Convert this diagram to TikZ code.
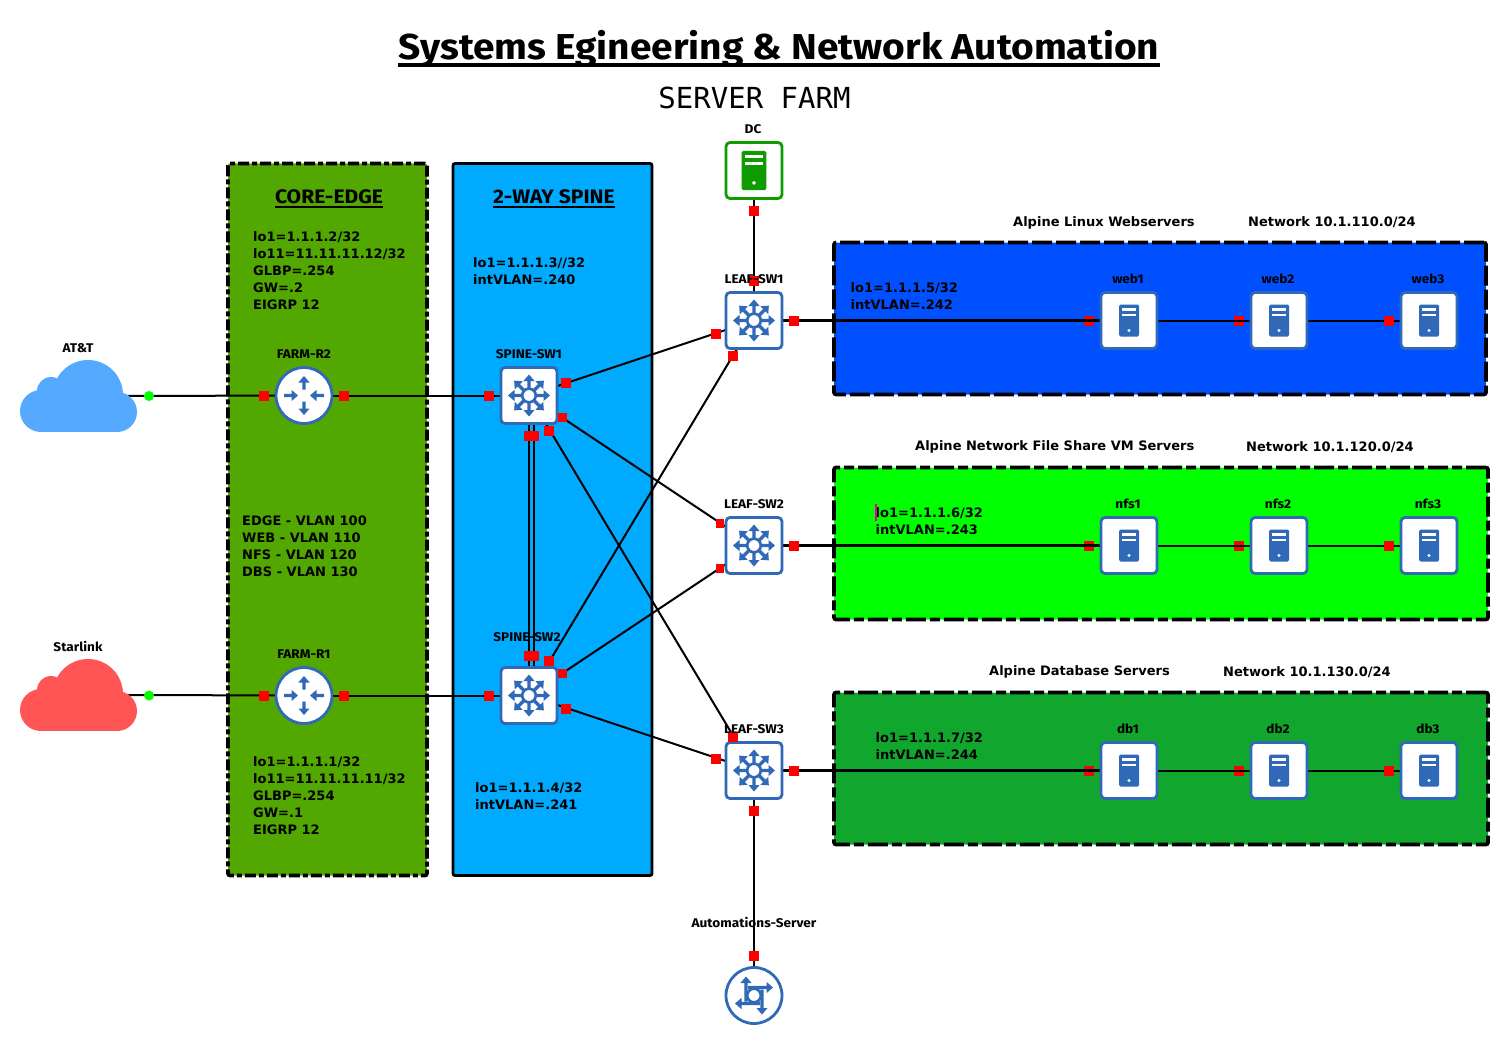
\documentclass[tikz,border=0pt]{standalone}
\usepackage{fontspec}
\setmainfont{DejaVu Sans}
\newfontfamily\ubf[FakeStretch=1.08]{Fira Sans}
\newfontfamily\monof{DejaVu Sans Mono}
\definecolor{iconblue}{HTML}{2F69B8}
\definecolor{dcgreen}{HTML}{109C00}
\definecolor{corefill}{HTML}{52A800}
\definecolor{spinefill}{HTML}{00AAFF}
\definecolor{webfill}{HTML}{0050FF}
\definecolor{nfsfill}{HTML}{00FF00}
\definecolor{dbfill}{HTML}{11A62E}
\definecolor{cloudblue}{HTML}{55AAFF}
\definecolor{cloudred}{HTML}{FF5555}
\pgfdeclarelayer{zonelayer}
\pgfdeclarelayer{linelayer}
\pgfsetlayers{zonelayer,linelayer,main}
\tikzset{
  zonebase/.style={draw=black,rounded corners=2pt,inner sep=0pt,line width=3.6pt},
  port/.style={fill=red,draw=none,minimum size=10pt,inner sep=0pt},
  portsmall/.style={fill=red,draw=none,minimum size=8.5pt,inner sep=0pt},
  swbox/.style={draw=iconblue,fill=white,line width=2.8pt,rounded corners=4pt,minimum size=56pt,inner sep=0pt},
  dcbox/.style={draw=dcgreen,fill=white,line width=2.8pt,rounded corners=4pt,minimum size=56pt,inner sep=0pt},
  circbox/.style={circle,draw=iconblue,fill=white,line width=2.8pt,minimum size=56pt,inner sep=0pt},
  conn/.style={draw=black,line width=2pt},
  connthick/.style={draw=black,line width=3pt},
  info/.style={inner sep=0pt,anchor=west,align=left,yshift=0.8pt,font=\fontsize{13}{17}\selectfont\bfseries},
  devlabel/.style={inner sep=0pt,yshift=0.6pt,font=\ubf\fontsize{12.6}{14}\selectfont\bfseries},
  zonetitle/.style={inner sep=0pt,yshift=0.8pt,font=\ubf\fontsize{19.5}{22}\selectfont\bfseries},
  nethead/.style={inner sep=0pt,anchor=west,yshift=0.8pt,font=\fontsize{13}{16}\selectfont\bfseries},
}
% block arrow from radius #1 to radius #2 at angle #3
\newcommand{\blockarrow}[3]{%
  \begin{scope}[rotate=#3]
    \fill (#1,-1.7) -- (#2-6.5,-1.7) -- (#2-6.5,-5.6) -- (#2,0) -- (#2-6.5,5.6) -- (#2-6.5,1.7) -- (#1,1.7) -- cycle;
  \end{scope}}
\newcommand{\switchicon}[1]{%
  \begin{scope}[shift={(#1)},iconblue]
    \foreach \a in {0,45,...,315}{\blockarrow{5}{21}{\a}}
    \draw[fill=white,draw=iconblue,line width=2.6pt] (0,0) circle (6.8);
  \end{scope}}
\newcommand{\routericon}[1]{%
  \begin{scope}[shift={(#1)},iconblue]
    \blockarrow{6}{19.5}{90}
    \blockarrow{6}{19.5}{270}
    \begin{scope}[shift={(-20,0)}]\blockarrow{0}{14}{0}\end{scope}
    \begin{scope}[shift={(20,0)}]\blockarrow{0}{14}{180}\end{scope}
  \end{scope}}
\newcommand{\autoicon}[1]{%
  \begin{scope}[shift={(#1)},iconblue]
    \foreach \a in {0,90,180,270}{%
      \begin{scope}[rotate=\a]
        \begin{scope}[shift={(-8,6)}]\blockarrow{0}{25}{90}\end{scope}
      \end{scope}}
    \draw[fill=white,draw=iconblue,line width=2.6pt] (0,0) circle (6.8);
  \end{scope}}
% server glyph: centre #1, scale #2, colour #3
\newcommand{\servericon}[3]{%
  \begin{scope}[shift={(#1)},scale=#2]
    \fill[#3,rounded corners=1.5pt] (-10,-16) rectangle (10,16);
    \fill[white] (-7,-13) rectangle (7,-10);
    \fill[white] (-7,-7) rectangle (7,-4.5);
    \fill[white] (0,10) circle (1.6);
  \end{scope}}
\newcommand{\cloudshape}[2]{%
  \begin{scope}[shift={(#1)}]
    \fill[#2] (88,395) circle (35);
    \fill[#2] (41,411) circle (21);
    \fill[#2] (117,412) circle (20);
    \fill[#2] (51,391) circle (14);
    \fill[#2] (41,400) rectangle (117,432);
  \end{scope}}
\begin{document}
\begin{tikzpicture}[x=1pt,y=-1pt]
\useasboundingbox (0,-0.5) rectangle (1510,1045.5);

% ---- zones
\begin{pgfonlayer}{zonelayer}
\fill[white] (0,-0.5) rectangle (1510,1045.5);
\node[zonebase,fill=corefill,dash pattern=on 11pt off 3pt on 5pt off 3pt,minimum width=199pt,minimum height=712pt] (zcore) at (327.5,519) {};
\node[zonebase,fill=spinefill,line width=2.8pt,minimum width=199pt,minimum height=712pt] (zspine) at (552.5,519) {};
\node[zonebase,fill=webfill,dash pattern=on 20pt off 4pt,minimum width=652pt,minimum height=152pt] (zweb) at (1160,318) {};
\node[zonebase,fill=nfsfill,dash pattern=on 20pt off 4pt on 10pt off 4pt,minimum width=654pt,minimum height=152pt] (znfs) at (1161,543) {};
\node[zonebase,fill=dbfill,dash pattern=on 20pt off 4pt on 10pt off 4pt,minimum width=654pt,minimum height=152pt] (zdb) at (1161,768) {};
\foreach \z/\y in {web/320,nfs/545,db/770}{
  \node[port] (\z p1) at (1089,\y) {};
  \node[port] (\z p2) at (1239,\y) {};
}
\end{pgfonlayer}

% ---- clouds
\cloudshape{0,-0.5}{cloudblue}
\cloudshape{0,298.5}{cloudred}
\coordinate (att) at (125,395.5);
\coordinate (star) at (125,694.5);

% ---- devices
\node[circbox] (r2) at (304,395) {};
\node[circbox] (r1) at (304,695) {};
\node[swbox] (sp1) at (529,395) {};
\node[swbox] (sp2) at (529,695) {};
\node[swbox] (lf1) at (754,320) {};
\node[swbox] (lf2) at (754,545) {};
\node[swbox] (lf3) at (754,770) {};
\node[dcbox] (dc) at (754,170) {};
\node[circbox] (auto) at (754,995) {};
\foreach \z/\y in {web/320,nfs/545,db/770}{
  \foreach \n/\x in {1/1129,2/1279,3/1429}{
    \node[swbox] (\z\n) at (\x,\y) {};
    \servericon{\z\n.center}{1}{iconblue}
  }
}
\routericon{r2.center}
\routericon{r1.center}
\switchicon{sp1.center}
\switchicon{sp2.center}
\switchicon{lf1.center}
\switchicon{lf2.center}
\switchicon{lf3.center}
\autoicon{auto.center}
\servericon{dc.center}{1.23}{dcgreen}

% ---- ports
\node[circle,fill=nfsfill,minimum size=10pt,inner sep=0pt] (dotatt) at (149,395.5) {};
\node[circle,fill=nfsfill,minimum size=10pt,inner sep=0pt] (dotstar) at (149,695) {};
\node[port] (a1) at (264,395) {};
\node[port] (a2) at (344,395) {};
\node[port] (a3) at (489,395) {};
\node[port] (b1) at (264,695) {};
\node[port] (b2) at (344,695) {};
\node[port] (b3) at (489,695) {};
\node[port] (s1a) at (566,382) {};
\node[portsmall] (s1b) at (562.5,417) {};
\node[port] (s1c) at (549,430) {};
\node[port] (s1d) at (529,435) {};
\node[port] (s1e) at (534,435) {};
\node[port] (s2d) at (529,655) {};
\node[port] (s2e) at (534,655) {};
\node[port] (s2c) at (549,660) {};
\node[portsmall] (s2b) at (562.5,673) {};
\node[port] (s2a) at (566,708) {};
\node[port] (l1a) at (716,333) {};
\node[port] (l1b) at (733,355) {};
\node[portsmall] (l2a) at (720,523) {};
\node[portsmall] (l2b) at (720,568) {};
\node[port] (l3a) at (733,736) {};
\node[port] (l3b) at (716,758) {};
\node[port] (d1) at (754,210) {};
\node[port] (d2) at (754,280) {};
\node[port] (l3c) at (754,810) {};
\node[port] (au) at (754,955) {};
\node[port] (l1r) at (794,320) {};
\node[port] (l2r) at (794,545) {};
\node[port] (l3r) at (794,770) {};
\foreach \z/\y in {web/320,nfs/545,db/770}{
  \node[port] (\z p3) at (1389,\y) {};
}

% ---- connectors
\begin{pgfonlayer}{linelayer}
\draw[conn] (att) -- (r2.center);
\draw[conn] (star) -- (r1.center);
\draw[conn] (r2.center) -- (sp1.center);
\draw[conn] (r1.center) -- (sp2.center);
\draw[conn] (sp1.center) -- (lf1.center);
\draw[conn] (sp1.center) -- (lf2.center);
\draw[conn] (sp1.center) -- (lf3.center);
\draw[conn] (sp2.center) -- (lf1.center);
\draw[conn] (sp2.center) -- (lf2.center);
\draw[conn] (sp2.center) -- (lf3.center);
\draw[conn] (sp1.center) -- (sp2.center);
\draw[conn] ([xshift=5pt]sp1.center) -- ([xshift=5pt]sp2.center);
\draw[conn] (dc.center) -- (lf1.center);
\draw[conn] (lf3.center) -- (auto.center);
\draw[connthick] (lf1.center) -- (web1.center);
\draw[connthick] (lf2.center) -- (nfs1.center);
\draw[connthick] (lf3.center) -- (db1.center);
\foreach \z in {web,nfs,db}{
  \draw[conn] (\z1.center) -- (\z2.center);
  \draw[conn] (\z2.center) -- (\z3.center);
}
\end{pgfonlayer}

% ---- headings
\node[inner sep=0pt,font=\ubf\fontsize{36}{40}\selectfont\bfseries] (title) at (779,48) {Systems Egineering \& Network Automation};
\draw[line width=4pt] (398,65) -- (1160,65);
\node[inner sep=0pt,yshift=0.8pt,font=\monof\fontsize{29}{32}\selectfont] (farm) at (754.5,98) {SERVER FARM};
\node[zonetitle] (tcore) at (329,197) {CORE-EDGE};
\draw[line width=2pt] (tcore.base west |- 0,206) -- (tcore.base east |- 0,206);
\node[zonetitle] (tspine) at (554,197) {2-WAY SPINE};
\draw[line width=2pt] (tspine.base west |- 0,206) -- (tspine.base east |- 0,206);

% ---- info text
\node[info] (i1) at (253,271) {lo1=1.1.1.2/32\\lo11=11.11.11.12/32\\GLBP=.254\\GW=.2\\EIGRP 12};
\node[info] (i2) at (242,546.5) {EDGE - VLAN 100\\WEB - VLAN 110\\NFS - VLAN 120\\DBS - VLAN 130};
\node[info] (i3) at (253,796) {lo1=1.1.1.1/32\\lo11=11.11.11.11/32\\GLBP=.254\\GW=.1\\EIGRP 12};
\node[info] (i4) at (473,271.5) {lo1=1.1.1.3//32\\intVLAN=.240};
\node[info] (i5) at (475,796.5) {lo1=1.1.1.4/32\\intVLAN=.241};
\node[info] (i6) at (850.5,296.5) {lo1=1.1.1.5/32\\intVLAN=.242};
\node[info] (i7) at (875.5,521.5) {lo1=1.1.1.6/32\\intVLAN=.243};
\node[info] (i8) at (875.5,746.5) {lo1=1.1.1.7/32\\intVLAN=.244};
\fill[magenta] (875.3,503) rectangle (876.7,520.5);

\node[nethead] (h1) at (1013,223) {Alpine Linux Webservers};
\node[nethead] (h2) at (1248,222) {Network 10.1.110.0/24};
\node[nethead] (h3) at (915,447) {Alpine Network File Share VM Servers};
\node[nethead] (h4) at (1246,447) {Network 10.1.120.0/24};
\node[nethead] (h5) at (989,672) {Alpine Database Servers};
\node[nethead] (h6) at (1223,672) {Network 10.1.130.0/24};

% ---- device labels
\node[devlabel] (lat) at (78,348) {AT\&T};
\node[devlabel] (lst) at (78,647) {Starlink};
\node[devlabel] (lr2) at (304,354) {FARM-R2};
\node[devlabel] (lr1) at (304,654) {FARM-R1};
\node[devlabel] (ls1) at (529,354) {SPINE-SW1};
\node[devlabel] (ls2) at (527,637) {SPINE-SW2};
\node[devlabel] (ldc) at (753,129) {DC};
\node[devlabel] (ll1) at (754,279) {LEAF-SW1};
\node[devlabel] (ll2) at (754,504) {LEAF-SW2};
\node[devlabel] (ll3) at (754,729) {LEAF-SW3};
\node[devlabel] (lau) at (754,923) {Automations-Server};
\foreach \z/\y in {web/279,nfs/504,db/729}{
  \foreach \n/\x in {1/1128,2/1278,3/1428}{
    \node[devlabel] (l\z\n) at (\x,\y) {\z\n};
  }
}
\end{tikzpicture}
\end{document}
